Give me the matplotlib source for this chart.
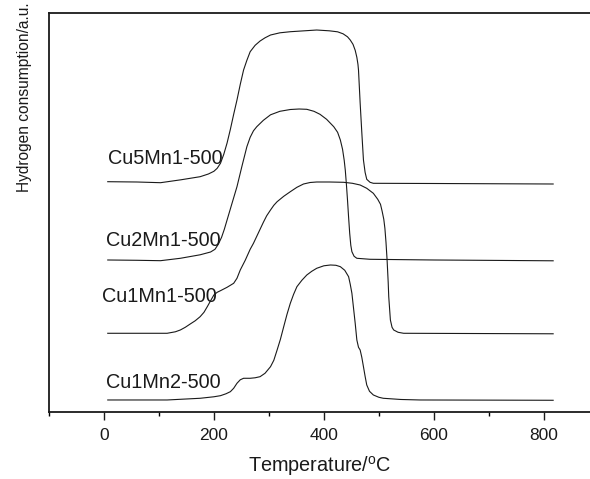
import matplotlib
matplotlib.use("Agg")
import matplotlib.pyplot as plt
from matplotlib.ticker import MultipleLocator

plt.rcParams['font.family'] = ['Liberation Sans', 'DejaVu Sans']

# ---- data (temperature in degC, signal in a.u.) ----
t_cu5mn1 = [7, 60, 103, 140, 175, 190, 200, 206, 212, 218, 224, 230, 236, 242, 248, 254, 260, 266, 275, 284, 293, 303, 320, 339,
            387, 410, 425, 435, 443, 448, 453, 457, 460, 462, 463, 466, 469, 472, 475, 478, 484, 490, 600, 817]
s_cu5mn1 = [230.6, 230.3, 229.6, 232.5, 235.6, 238.3, 241, 244, 249, 258, 269.3, 283, 298, 312.3, 328, 342.3, 352, 360.6, 367, 371.3, 374.5, 377.3, 379.5, 380.6,
            382.3, 381.5, 380.5, 378.5, 375.5, 372.3, 368, 362, 355, 348, 342.3, 309.3, 280, 252.3, 240, 233, 230, 229, 228.8, 228.3]

t_cu2mn1 = [7, 60, 103, 139, 175, 194, 202, 208, 214, 219, 224, 233, 242, 251, 260, 266, 272, 278, 290, 303, 320, 339, 355, 369,
            382, 393, 405, 418, 425, 430, 434, 437, 439, 441, 443, 445, 447, 449, 451, 455, 460, 484, 600, 817]
s_cu2mn1 = [152.3, 152, 151.6, 154, 157.5, 160.3, 163, 168, 175, 183, 192.3, 209, 225.6, 246, 265.6, 275, 281.5, 285.6, 292, 297.5, 301, 302.8, 303.3, 303,
            301, 298, 293, 285.6, 280, 272.3, 263, 252, 242, 228, 212.3, 195, 179, 167, 160.6, 156, 154, 153, 152.3, 151.5]

t_cu1mn1 = [7, 115, 130, 139, 148, 157, 166, 175, 182, 188, 194, 200, 206, 212, 224, 236, 242, 248, 257, 266, 272, 278, 284, 290,
            296, 303, 309, 315, 327, 339, 351, 363, 375, 387, 410, 436, 452, 466, 478, 490, 498, 503, 506, 509, 511, 513, 515,
            517, 518, 520, 521, 524, 527, 535, 545, 817]
s_cu1mn1 = [79, 79, 80.5, 82.3, 85, 88.3, 91.5, 95.6, 100, 105.6, 111.5, 117.3, 120, 121.6, 125, 129, 134, 142.3, 152, 163, 169, 176, 183, 190,
            196.5, 202.3, 207, 210.6, 216, 220.6, 225, 228.3, 229.8, 230.3, 230.3, 230, 229, 227.3, 224, 219, 213, 208, 201, 193, 184, 170, 152.3,
            130, 115.6, 100, 92.3, 85, 82.3, 80, 79, 78.5]

t_cu1mn2 = [7, 115, 175, 200, 212, 222, 230, 236, 242, 248, 254, 260, 266, 275, 284, 293, 303, 309, 315, 321, 327, 333, 339, 345,
            351, 360, 369, 378, 387, 400, 412, 422, 430, 438, 445, 448, 451, 454, 457, 460, 463, 466, 469, 472, 475, 478, 483,
            490, 500, 508, 540, 575, 817]
s_cu1mn2 = [12.3, 12.3, 14, 15.5, 16.6, 18.5, 20.6, 24, 29, 32.5, 34, 34, 34, 34.5, 35.6, 39, 45.6, 52, 62.3, 73, 85.6, 98, 109, 118,
            125.6, 132, 137.3, 141, 144, 146.5, 147.3, 147, 145.6, 142, 135.6, 128, 119, 104, 89, 72.3, 65, 62.3, 55, 45.6, 36, 27.3, 21,
            17.3, 15, 14, 12.8, 12.3, 12]

labels = ['Cu5Mn1-500', 'Cu2Mn1-500', 'Cu1Mn1-500', 'Cu1Mn2-500']
label_x = [7, 3, -3, 3]
label_y = [248.3, 166.3, 110.6, 24]

xticks = [0, 200, 400, 600, 800]

fig = plt.figure(figsize=(5.9, 4.79), dpi=100)
ax = fig.add_axes([0.0829, 0.1393, 1 - 0.0829, 0.9722 - 0.1393])

for t, s in [(t_cu5mn1, s_cu5mn1), (t_cu2mn1, s_cu2mn1), (t_cu1mn1, s_cu1mn1), (t_cu1mn2, s_cu1mn2)]:
    ax.plot(t, s, color='#1a1a1a', lw=0.8, solid_joinstyle='round')

for lab, x, y in zip(labels, label_x, label_y):
    ax.text(x, y, lab, fontsize=14.3, va='baseline', ha='left', color='#1a1a1a')

ax.set_xlim(-100, 884)
ax.set_ylim(0, 399)
ax.set_xticks(xticks)
ax.xaxis.set_minor_locator(MultipleLocator(100))
ax.tick_params(axis='x', which='major', direction='out', length=6, width=1, labelsize=12.5, pad=5, colors='#1a1a1a')
ax.tick_params(axis='x', which='minor', direction='out', length=3, width=1)
ax.set_yticks([])
ax.spines['right'].set_visible(False)
for sp in ['top', 'left', 'bottom']:
    ax.spines[sp].set_linewidth(1.3)
    ax.spines[sp].set_color('#1a1a1a')

ax.set_xlabel('Temperature/$^{\\mathregular{o}}$C', fontsize=14.3, labelpad=8, color='#1a1a1a')
ax.set_ylabel('Hydrogen consumption/a.u.', fontsize=11.2, color='#1a1a1a')
ax.yaxis.set_label_coords(-0.031, 0.79)

fig.savefig('out.png', dpi=100)
